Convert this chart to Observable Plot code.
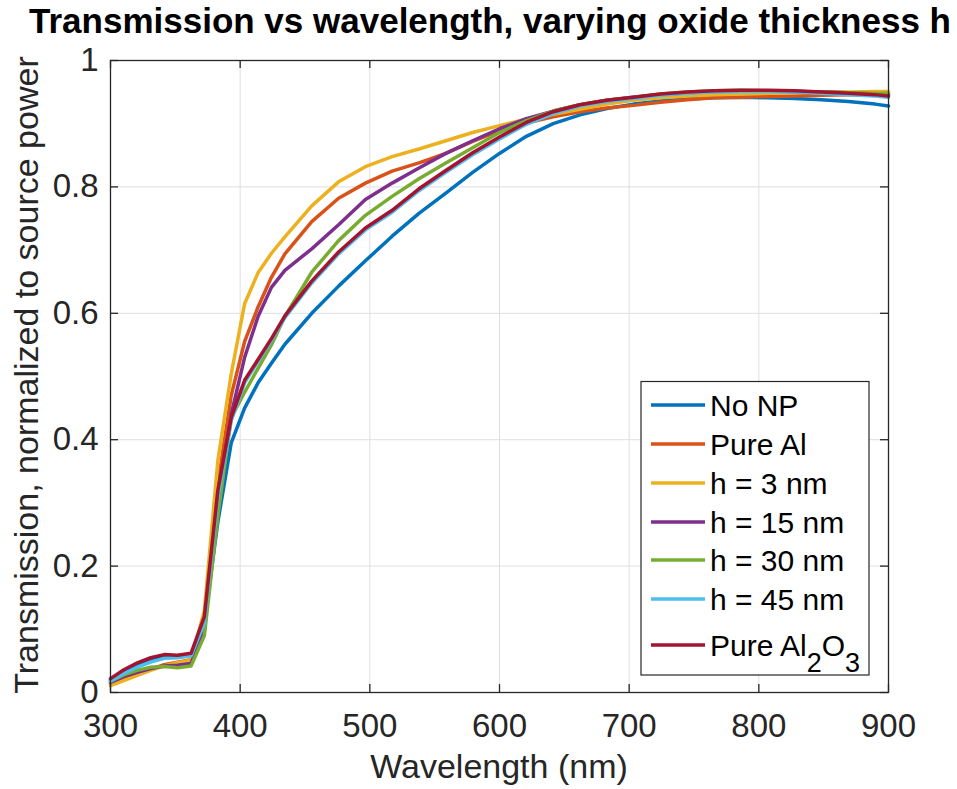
<!DOCTYPE html>
<html><head><meta charset="utf-8">
<script src="https://cdn.jsdelivr.net/npm/d3@7"></script>
<script src="https://cdn.jsdelivr.net/npm/@observablehq/plot@0.6"></script>
<style>body{margin:0;background:#fff;} #chart{width:957px;height:789px;}</style>
</head><body><div id="chart"></div>
<script>
const wavelengths = [300, 310.3, 320.7, 331.0, 341.4, 351.7, 362.1, 372.4, 382.8, 393.1, 403.4, 413.8, 424.1, 434.5, 455.2, 475.9, 496.6, 517.2, 537.9, 558.6, 579.3, 600.0, 620.7, 641.4, 662.1, 682.8, 703.4, 724.1, 744.8, 765.5, 786.2, 806.9, 827.6, 848.3, 869.0, 889.7, 900.0];

const seriesNames = ["No NP", "Pure Al", "h = 3 nm", "h = 15 nm", "h = 30 nm", "h = 45 nm", "Pure Al2O3"];
const seriesColors = ["#0072BD", "#D95319", "#EDB120", "#7E2F8E", "#77AC30", "#4DBEEE", "#A2142F"];

const tNoNP   = [0.020,0.034,0.045,0.053,0.058,0.057,0.060,0.110,0.270,0.395,0.450,0.490,0.521,0.551,0.600,0.643,0.683,0.722,0.758,0.790,0.823,0.853,0.880,0.900,0.914,0.924,0.931,0.936,0.939,0.941,0.942,0.941,0.940,0.938,0.935,0.931,0.928];
const tPureAl = [0.014,0.022,0.030,0.037,0.044,0.048,0.052,0.110,0.330,0.470,0.555,0.610,0.657,0.694,0.745,0.782,0.806,0.825,0.838,0.853,0.872,0.889,0.901,0.911,0.919,0.925,0.929,0.934,0.938,0.941,0.942,0.943,0.944,0.945,0.946,0.946,0.947];
const tH3     = [0.011,0.019,0.027,0.035,0.042,0.047,0.051,0.130,0.367,0.504,0.615,0.664,0.695,0.721,0.770,0.808,0.832,0.848,0.860,0.873,0.886,0.897,0.907,0.915,0.923,0.931,0.937,0.941,0.944,0.946,0.947,0.948,0.949,0.950,0.950,0.951,0.951];
const tH15    = [0.016,0.025,0.032,0.038,0.042,0.043,0.046,0.100,0.300,0.440,0.530,0.595,0.641,0.668,0.702,0.740,0.780,0.806,0.830,0.853,0.873,0.892,0.908,0.920,0.930,0.937,0.942,0.946,0.949,0.951,0.952,0.952,0.951,0.950,0.949,0.947,0.946];
const tH30    = [0.018,0.028,0.035,0.040,0.041,0.039,0.042,0.090,0.280,0.435,0.475,0.513,0.550,0.595,0.665,0.715,0.755,0.785,0.813,0.838,0.862,0.886,0.905,0.920,0.930,0.937,0.942,0.947,0.950,0.952,0.953,0.952,0.951,0.950,0.949,0.948,0.948];
const tH45    = [0.018,0.030,0.040,0.048,0.054,0.055,0.058,0.110,0.310,0.430,0.490,0.524,0.557,0.593,0.648,0.694,0.732,0.760,0.794,0.823,0.851,0.876,0.899,0.916,0.928,0.935,0.940,0.945,0.948,0.950,0.951,0.951,0.950,0.948,0.946,0.944,0.942];
const tAl2O3  = [0.022,0.036,0.047,0.055,0.060,0.059,0.062,0.120,0.320,0.435,0.494,0.527,0.560,0.596,0.651,0.697,0.735,0.763,0.797,0.826,0.854,0.879,0.902,0.919,0.930,0.937,0.942,0.947,0.950,0.952,0.953,0.953,0.952,0.950,0.948,0.946,0.944];

const xTicks = [300, 400, 500, 600, 700, 800, 900];
const xTickLabels = ["300", "400", "500", "600", "700", "800", "900"];
const yTicks = [0, 0.2, 0.4, 0.6, 0.8, 1];
const yTickLabels = ["0", "0.2", "0.4", "0.6", "0.8", "1"];

const titleText = "Transmission vs wavelength, varying oxide thickness h";
const xLabelText = "Wavelength (nm)";
const yLabelText = "Transmission, normalized to source power";

const seriesValues = [tNoNP, tPureAl, tH3, tH15, tH30, tH45, tAl2O3];
const rows = seriesNames.flatMap((name, s) => wavelengths.map((w, i) => ({name, w, t: seriesValues[s][i]})));

const FONT = "'Liberation Sans', Arial, Helvetica, sans-serif";
const AX = "#262626";
const W = 957, H = 789;

const svg = Plot.plot({
  width: W, height: H,
  marginLeft: 110, marginRight: 69, marginTop: 60, marginBottom: 97,
  style: {fontFamily: FONT, color: AX, background: "#fff", overflow: "visible"},
  x: {domain: [300, 900]},
  y: {domain: [0, 1]},
  color: {domain: seriesNames, range: seriesColors},
  marks: [
    Plot.ruleX(xTicks, {stroke: "#dfdfdf", strokeWidth: 1}),
    Plot.ruleY(yTicks, {stroke: "#dfdfdf", strokeWidth: 1}),
    Plot.line(rows, {x: "w", y: "t", z: "name", stroke: "name", strokeWidth: 3.5}),
    Plot.ruleX(xTicks, {y1: 0, y2: 0.0125, stroke: AX, strokeWidth: 1.3}),
    Plot.ruleX(xTicks, {y1: 1, y2: 0.9875, stroke: AX, strokeWidth: 1.3}),
    Plot.ruleY(yTicks, {x1: 300, x2: 306.2, stroke: AX, strokeWidth: 1.3}),
    Plot.ruleY(yTicks, {x1: 900, x2: 893.8, stroke: AX, strokeWidth: 1.3}),
    Plot.frame({stroke: AX, strokeWidth: 1.3}),
    Plot.axisX({ticks: xTicks, tickSize: 0, tickPadding: 21, fontSize: 33, label: null,
      tickFormat: d => xTickLabels[xTicks.indexOf(d)]}),
    Plot.axisY({ticks: yTicks, tickSize: 0, tickPadding: 12, fontSize: 33, label: null,
      tickFormat: d => yTickLabels[yTicks.indexOf(d)]})
  ]
});

document.getElementById("chart").appendChild(svg);
const s = d3.select(svg);

// Title
s.append("text").attr("x", 29).attr("y", 33).attr("text-anchor", "start")
  .attr("font-family", FONT).attr("font-weight", "bold").attr("font-size", 35)
  .attr("fill", "#000").text(titleText);

// Axis labels
s.append("text").attr("x", 499).attr("y", 778).attr("text-anchor", "middle")
  .attr("font-family", FONT).attr("font-size", 34).attr("fill", AX).text(xLabelText);
s.append("text").attr("transform", "translate(38,375) rotate(-90)").attr("text-anchor", "middle")
  .attr("font-family", FONT).attr("font-size", 34).attr("fill", AX).text(yLabelText);

// Legend
const lg = s.append("g").attr("text-anchor", "start");
lg.append("rect").attr("x", 641).attr("y", 381.5).attr("width", 228).attr("height", 293.5)
  .attr("fill", "#fff").attr("stroke", AX).attr("stroke-width", 1.2);
const rowY = [405, 444, 483, 522, 560, 599, 645];
seriesNames.forEach((name, i) => {
  const y = rowY[i];
  lg.append("line").attr("x1", 651).attr("x2", 705).attr("y1", y).attr("y2", y)
    .attr("stroke", seriesColors[i]).attr("stroke-width", 3.5);
  const t = lg.append("text").attr("x", 710).attr("y", y + 11).attr("text-anchor", "start")
    .attr("font-family", FONT).attr("font-size", 30).attr("fill", "#000");
  // letters followed by digits -> subscript
  const parts = name.split(/(?<=[A-Za-z])(\d+)/);
  let sub = false;
  parts.forEach((p, k) => {
    if (p === "") return;
    const isSub = (k % 2 === 1);
    const ts = t.append("tspan").text(p);
    if (isSub && !sub) { ts.attr("dy", 16).attr("font-size", 27); sub = true; }
    else if (!isSub && sub) { ts.attr("dy", -16); sub = false; }
    else if (isSub) ts.attr("font-size", 27);
  });
});
</script>
</body></html>
